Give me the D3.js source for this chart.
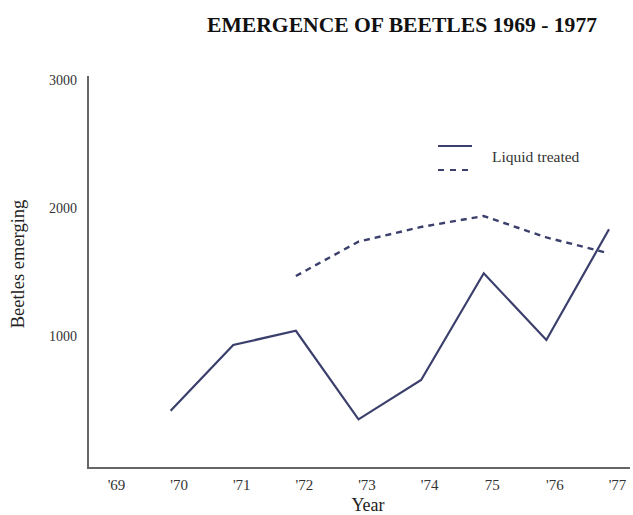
<!DOCTYPE html>
<html>
<head>
<meta charset="utf-8">
<script src="https://cdn.jsdelivr.net/npm/d3@7"></script>
<style>
  body { margin: 0; background: #fff; }
  svg text { font-family: "Liberation Serif", "Times New Roman", serif; }
</style>
</head>
<body>
<div id="chart"></div>
<script>
// chart data
var years = [1969, 1970, 1971, 1972, 1973, 1974, 1975, 1976, 1977];
var yearLabels = ["'69", "'70", "'71", "'72", "'73", "'74", "75", "'76", "'77"];
var solidValues = [null, 416, 930, 1041, 349, 656, 1490, 969, 1834];
var dashedValues = [null, null, null, 1469, 1737, 1852, 1937, 1770, 1646];
var yTicks = [1000, 2000, 3000];

var width = 633, height = 515;
var lineColor = "#3b3f6c";
var axisColor = "#666";

var svg = d3.select("#chart").append("svg")
  .attr("width", width)
  .attr("height", height);

// scales
var x = d3.scaleLinear().domain([1969, 1977]).range([108, 609]);
var y = d3.scaleLinear().domain([0, 3000]).range([464, 80]);

// title
svg.append("text")
  .attr("x", 207)
  .attr("y", 32)
  .attr("textLength", 390)
  .attr("lengthAdjust", "spacingAndGlyphs")
  .style("font-size", "20px")
  .style("font-weight", "bold")
  .attr("fill", "#111")
  .text("EMERGENCE OF BEETLES 1969 - 1977");

// axis lines (hand drawn style, no ticks)
svg.append("path")
  .attr("d", "M88,76 L88,468 L630,468")
  .attr("fill", "none")
  .attr("stroke", axisColor)
  .attr("stroke-width", 2);

// Y axis labels
svg.append("g")
  .attr("transform", "translate(77,0)")
  .call(d3.axisLeft(y).tickValues(yTicks).tickSize(0).tickFormat(d3.format("d")))
  .call(function(g) { g.select(".domain").remove(); })
  .selectAll("text")
    .attr("x", 0)
    .attr("fill", "#333")
    .style("font-size", "14px");

// X axis labels
svg.append("g")
  .attr("transform", "translate(8,479)")
  .call(d3.axisBottom(x).tickValues(years).tickSize(0)
    .tickFormat(function(d, i) { return yearLabels[i]; }))
  .call(function(g) { g.select(".domain").remove(); })
  .selectAll("text")
    .attr("y", 0)
    .attr("dy", "0.71em")
    .attr("fill", "#333")
    .style("font-size", "15px");

// Axis titles
svg.append("text")
  .attr("x", 368)
  .attr("y", 511)
  .attr("text-anchor", "middle")
  .attr("fill", "#222")
  .style("font-size", "18px")
  .text("Year");

svg.append("text")
  .attr("transform", "translate(24,264) rotate(-90)")
  .attr("text-anchor", "middle")
  .attr("fill", "#222")
  .style("font-size", "18.5px")
  .text("Beetles emerging");

// lines
var line = d3.line()
  .defined(function(d) { return d[1] != null; })
  .x(function(d) { return x(d[0]); })
  .y(function(d) { return y(d[1]); });

svg.append("path")
  .datum(years.map(function(yr, i) { return [yr, solidValues[i]]; }))
  .attr("d", line)
  .attr("fill", "none")
  .attr("stroke", lineColor)
  .attr("stroke-width", 2.2);

svg.append("path")
  .datum(years.map(function(yr, i) { return [yr, dashedValues[i]]; }))
  .attr("d", line)
  .attr("fill", "none")
  .attr("stroke", lineColor)
  .attr("stroke-width", 2.4)
  .attr("stroke-dasharray", "6,5");

// legend
var legend = svg.append("g");
legend.append("line")
  .attr("x1", 438).attr("x2", 472).attr("y1", 146).attr("y2", 146)
  .attr("stroke", lineColor).attr("stroke-width", 2);
legend.append("line")
  .attr("x1", 438).attr("x2", 472).attr("y1", 170).attr("y2", 170)
  .attr("stroke", lineColor).attr("stroke-width", 2)
  .attr("stroke-dasharray", "6,6");
legend.append("text")
  .attr("x", 492)
  .attr("y", 162)
  .attr("fill", "#333")
  .style("font-size", "15.5px")
  .text("Liquid treated");
</script>
</body>
</html>
